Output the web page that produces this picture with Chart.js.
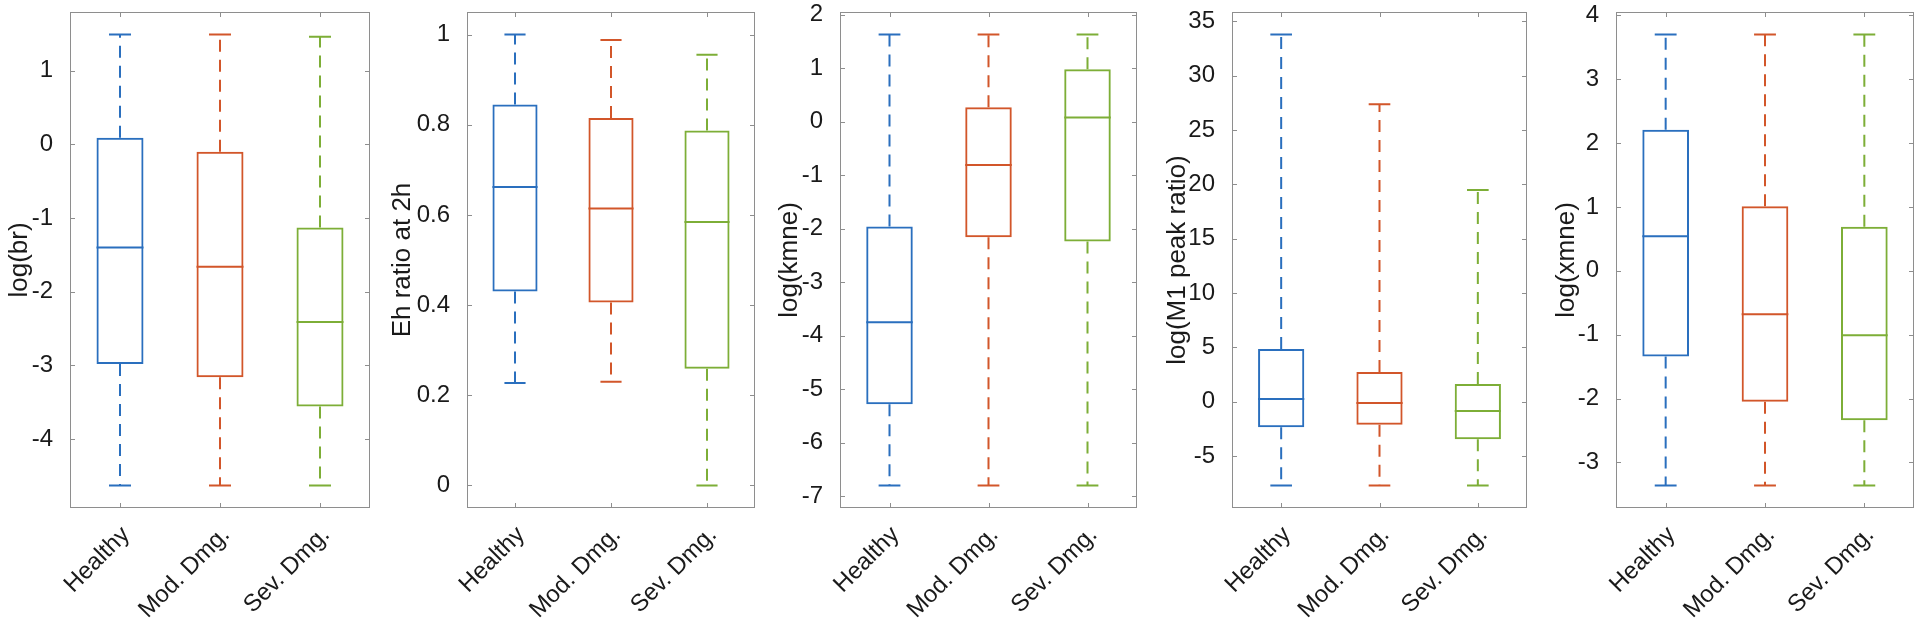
<!DOCTYPE html>
<html>
<head>
<meta charset="utf-8">
<script src="https://cdn.jsdelivr.net/npm/chart.js@4.4.1/dist/chart.umd.min.js"></script>
<style>
html, body { margin: 0; padding: 0; background: #fff; }
#wrap { position: relative; width: 1920px; height: 633px; overflow: hidden; }
.panel { position: absolute; top: 0; height: 633px; }
</style>
</head>
<body>
<div id="wrap"></div>
<script>
var groups = ["Healthy", "Mod. Dmg.", "Sev. Dmg."];
var yTitles = ["log(br)", "Eh ratio at 2h", "log(kmne)", "log(M1 peak ratio)", "log(xmne)"];

// one row per panel, one value per group (Healthy, Mod., Sev.)
var whiskerLow = [
	[-4.63, -4.63, -4.63],
	[0.227, 0.23, 0],
	[-6.8, -6.8, -6.8],
	[-7.7, -7.7, -7.7],
	[-3.36, -3.36, -3.36]
];
var q1 = [
	[-2.98, -3.16, -3.56],
	[0.43, 0.406, 0.259],
	[-5.28, -2.16, -2.24],
	[-2.34, -2.12, -3.45],
	[-1.34, -2.05, -2.34]
];
var median = [
	[-1.40, -1.66, -2.41],
	[0.662, 0.614, 0.584],
	[-3.75, -0.81, 0.08],
	[0.26, -0.11, -0.85],
	[0.54, -0.68, -1.01]
];
var q3 = [
	[0.09, -0.10, -1.13],
	[0.845, 0.815, 0.787],
	[-1.96, 0.27, 0.98],
	[4.85, 2.74, 1.64],
	[2.21, 1.01, 0.69]
];
var whiskerHigh = [
	[1.49, 1.49, 1.46],
	[1.0, 0.988, 0.955],
	[1.63, 1.63, 1.63],
	[33.77, 27.36, 19.48],
	[3.70, 3.70, 3.70]
];
var tickStep = [1, 0.2, 1, 5, 1];

var colors = ["#2a6fbe", "#d2562a", "#7dae37"];

// axes boxes as placed in the figure
var plotLeft = [70, 467, 840, 1232, 1616];
var plotWidth = [300, 288, 297, 295, 298];
var titleX = [20, 403, 790, 1178, 1567];

var BOX = 0.47, CAP = 0.11;
var TICK_FONT = 24, TITLE_FONT = 26;

Chart.defaults.font.family = "'Liberation Sans', Arial, sans-serif";
Chart.defaults.color = "#1a1a1a";

// matlab style box with inward ticks
var framePlugin = {
	id: "frame",
	afterDatasetsDraw: function(chart) {
		var ctx = chart.ctx, a = chart.chartArea;
		var sx = chart.scales.x, sy = chart.scales.y;
		var L = 5;
		ctx.save();
		ctx.strokeStyle = "#8e8e8e";
		ctx.lineWidth = 1;
		ctx.strokeRect(Math.round(a.left) + 0.5, Math.round(a.top) + 0.5, Math.round(a.width) - 1, Math.round(a.height) - 1);
		ctx.beginPath();
		sy.ticks.forEach(function(t) {
			var y = Math.round(sy.getPixelForValue(t.value)) + 0.5;
			ctx.moveTo(a.left, y); ctx.lineTo(a.left + L, y);
			ctx.moveTo(a.right, y); ctx.lineTo(a.right - L, y);
		});
		sx.ticks.forEach(function(t) {
			var x = Math.round(sx.getPixelForValue(t.value)) + 0.5;
			ctx.moveTo(x, a.bottom); ctx.lineTo(x, a.bottom - L);
			ctx.moveTo(x, a.top); ctx.lineTo(x, a.top + L);
		});
		ctx.stroke();
		ctx.restore();
	}
};

function makePanel(p) {
	var wrap = document.getElementById("wrap");
	var axisW = Math.round(plotLeft[p] - titleX[p] + TITLE_FONT * 1.2 / 2);
	var div = document.createElement("div");
	div.className = "panel";
	div.style.left = (plotLeft[p] - axisW) + "px";
	div.style.width = (axisW + plotWidth[p] + 4) + "px";
	var canvas = document.createElement("canvas");
	div.appendChild(canvas);
	wrap.appendChild(div);

	var lo = Math.min.apply(null, whiskerLow[p]);
	var hi = Math.max.apply(null, whiskerHigh[p]);
	var pad = 0.05 * (hi - lo);

	var datasets = [{
		type: "bar",
		data: groups.map(function(g, i) { return {x: i + 1, y: [q1[p][i], q3[p][i]]}; }),
		backgroundColor: "rgba(255,255,255,0)",
		borderColor: colors,
		borderWidth: 2,
		borderSkipped: false,
		barPercentage: BOX,
		categoryPercentage: 1
	}];
	groups.forEach(function(g, i) {
		var x = i + 1;
		datasets.push({
			type: "line",
			data: [
				{x: x - BOX / 2, y: median[p][i]}, {x: x + BOX / 2, y: median[p][i]}, {x: x, y: null},
				{x: x - CAP, y: whiskerHigh[p][i]}, {x: x + CAP, y: whiskerHigh[p][i]}, {x: x, y: null},
				{x: x - CAP, y: whiskerLow[p][i]}, {x: x + CAP, y: whiskerLow[p][i]}
			],
			borderColor: colors[i],
			borderWidth: 2,
			pointRadius: 0,
			spanGaps: false
		});
		datasets.push({
			type: "line",
			data: [
				{x: x, y: q3[p][i]}, {x: x, y: whiskerHigh[p][i]}, {x: x, y: null},
				{x: x, y: q1[p][i]}, {x: x, y: whiskerLow[p][i]}
			],
			borderColor: colors[i],
			borderWidth: 2,
			borderDash: [12, 8],
			pointRadius: 0,
			spanGaps: false
		});
	});

	new Chart(canvas, {
		type: "bar",
		data: {datasets: datasets},
		plugins: [framePlugin],
		options: {
			responsive: true,
			maintainAspectRatio: false,
			animation: false,
			events: [],
			layout: {padding: {top: 12, right: 4, bottom: 0, left: 0}},
			plugins: {legend: {display: false}, tooltip: {enabled: false}},
			scales: {
				x: {
					type: "linear",
					min: 0.5,
					max: 3.5,
					offset: false,
					grid: {display: false},
					border: {display: false},
					afterBuildTicks: function(s) {
						s.ticks = groups.map(function(g, i) { return {value: i + 1}; });
					},
					afterFit: function(s) {
						s.height = 125;
						s.paddingLeft = 0;
						s.paddingRight = 0;
					},
					ticks: {
						autoSkip: false,
						minRotation: 45,
						maxRotation: 45,
						padding: 5,
						labelOffset: 6,
						font: {size: TICK_FONT},
						callback: function(v) { return groups[Math.round(v) - 1]; }
					}
				},
				y: {
					min: lo - pad,
					max: hi + pad,
					grid: {display: false},
					border: {display: false},
					ticks: {
						stepSize: tickStep[p],
						includeBounds: false,
						padding: 9,
						font: {size: TICK_FONT},
						callback: function(v) { return String(Math.round(v * 1000) / 1000); }
					},
					title: {display: true, text: yTitles[p], padding: 0, font: {size: TITLE_FONT}},
					afterFit: function(s) {
						s.width = axisW;
						s.paddingTop = 0;
						s.paddingBottom = 0;
					}
				}
			}
		}
	});
}

for (var p = 0; p < yTitles.length; p++) {
	makePanel(p);
}
</script>
</body>
</html>
